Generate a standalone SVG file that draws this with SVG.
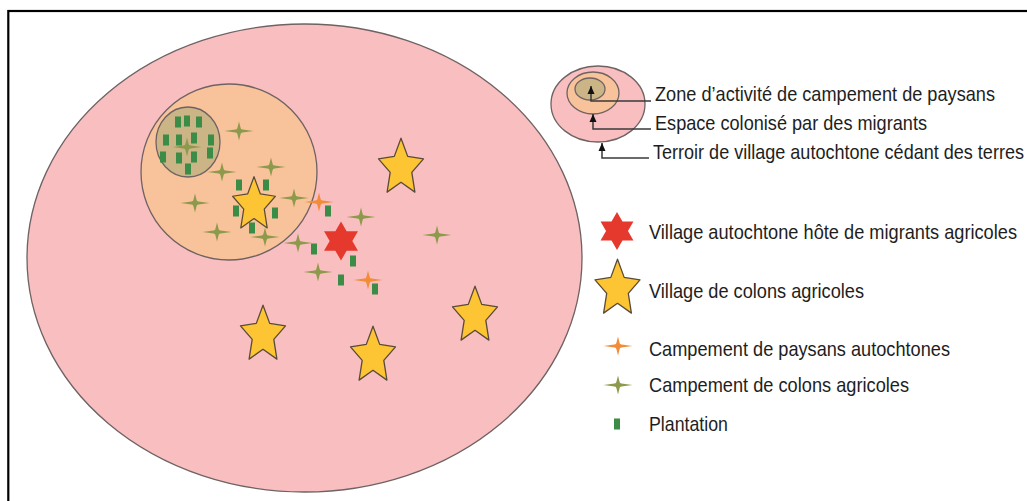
<svg xmlns="http://www.w3.org/2000/svg" xmlns:xlink="http://www.w3.org/1999/xlink" width="1027" height="501" viewBox="0 0 1027 501">
<style>
.lbl{font-family:"Liberation Sans",Arial,sans-serif;font-size:20.5px;fill:#1e1e1e}
.zone{stroke:#6e6262;stroke-width:1.3}
.vstar{fill:#fdc534;stroke:#5a4a36;stroke-width:1.3;stroke-linejoin:round}
.hstar{fill:#e5392e}
.camp-o{fill:#8e9a4c}
.camp-a{fill:#f28c38}
.plant{fill:#3b8c46}
.lead{fill:none;stroke:#3a3a3a;stroke-width:1.5}
</style>
<defs>
<path id="star5" d="M0,-29.8 L6.7,-11.6 L22.5,-9.2 L10.8,4.4 L13.9,24.1 L0,14.3 L-13.9,24.1 L-10.8,4.4 L-22.5,-9.2 L-6.7,-11.6Z"/>
<path id="star6" d="M0,-20 L5.77,-10 L17.32,-10 L11.55,0 L17.32,10 L5.77,10 L0,20 L-5.77,10 L-17.32,10 L-11.55,0 L-17.32,-10 L-5.77,-10Z"/>
<path id="spark" d="M-14.5,0 L-3.5,-1.6 Q-1.6,-1.6 -1.5,-3.5 L0,-9.5 L1.5,-3.5 Q1.6,-1.6 3.5,-1.6 L14.5,0 L3.5,1.6 Q1.6,1.6 1.5,3.5 L0,9.5 L-1.5,3.5 Q-1.6,1.6 -3.5,1.6Z"/>
<rect id="pl" x="-3" y="-5.5" width="6" height="11"/>
<filter id="soft" x="-20%" y="-20%" width="140%" height="140%"><feGaussianBlur stdDeviation="0.45"/></filter>
<marker id="arr" markerUnits="userSpaceOnUse" markerWidth="8" markerHeight="8" viewBox="0 0 8 7" refX="8" refY="3.5" orient="auto">
<path d="M0,0 L8,3.5 L0,7Z" fill="#111"/>
</marker>
</defs>
<rect x="8.3" y="11" width="1030" height="500" fill="#fff" stroke="#000" stroke-width="2.2"/>

<g id="terroir">
<ellipse class="zone" cx="304.5" cy="258" rx="277.5" ry="234" fill="#f9bec0"/>
</g>
<g id="espace-colonise">
<circle class="zone" cx="229" cy="172" r="88" fill="#f8c29a"/>
</g>
<g id="zone-activite">
<ellipse class="zone" cx="188" cy="142" rx="32" ry="35" fill="#cbb486"/>
</g>

<g id="plantations">
<use xlink:href="#pl" class="plant" x="178" y="122"/>
<use xlink:href="#pl" class="plant" x="187" y="121"/>
<use xlink:href="#pl" class="plant" x="199" y="122"/>
<use xlink:href="#pl" class="plant" x="166" y="140"/>
<use xlink:href="#pl" class="plant" x="179" y="140"/>
<use xlink:href="#pl" class="plant" x="194" y="138"/>
<use xlink:href="#pl" class="plant" x="211" y="140"/>
<use xlink:href="#pl" class="plant" x="163" y="157"/>
<use xlink:href="#pl" class="plant" x="179" y="158"/>
<use xlink:href="#pl" class="plant" x="194" y="157"/>
<use xlink:href="#pl" class="plant" x="210" y="153"/>
<use xlink:href="#pl" class="plant" x="188" y="169"/>
<use xlink:href="#pl" class="plant" x="239" y="185"/>
<use xlink:href="#pl" class="plant" x="266" y="185"/>
<use xlink:href="#pl" class="plant" x="236" y="211"/>
<use xlink:href="#pl" class="plant" x="275" y="213"/>
<use xlink:href="#pl" class="plant" x="252" y="228"/>
<use xlink:href="#pl" class="plant" x="328" y="211"/>
<use xlink:href="#pl" class="plant" x="314" y="249"/>
<use xlink:href="#pl" class="plant" x="353" y="261"/>
<use xlink:href="#pl" class="plant" x="341" y="280"/>
<use xlink:href="#pl" class="plant" x="375" y="289"/>
</g>

<g id="campements-colons" filter="url(#soft)">
<use xlink:href="#spark" class="camp-o" x="187" y="147"/>
<use xlink:href="#spark" class="camp-o" x="239" y="131"/>
<use xlink:href="#spark" class="camp-o" x="271" y="167"/>
<use xlink:href="#spark" class="camp-o" x="222" y="172"/>
<use xlink:href="#spark" class="camp-o" x="195" y="203"/>
<use xlink:href="#spark" class="camp-o" x="294" y="198"/>
<use xlink:href="#spark" class="camp-o" x="217" y="232"/>
<use xlink:href="#spark" class="camp-o" x="265" y="237"/>
<use xlink:href="#spark" class="camp-o" x="298" y="243"/>
<use xlink:href="#spark" class="camp-o" x="318" y="272"/>
<use xlink:href="#spark" class="camp-o" x="361" y="217"/>
<use xlink:href="#spark" class="camp-o" x="437" y="235"/>
</g>
<g id="campements-autochtones" filter="url(#soft)">
<use xlink:href="#spark" class="camp-a" x="319" y="202"/>
<use xlink:href="#spark" class="camp-a" x="368" y="280"/>
</g>

<g id="villages-colons">
<use xlink:href="#star5" class="vstar" transform="translate(254,205) scale(0.95)"/>
<use xlink:href="#star5" class="vstar" transform="translate(401,168)"/>
<use xlink:href="#star5" class="vstar" transform="translate(263,335)"/>
<use xlink:href="#star5" class="vstar" transform="translate(373,356)"/>
<use xlink:href="#star5" class="vstar" transform="translate(475,316)"/>
</g>
<g id="village-autochtone">
<use xlink:href="#star6" class="hstar" transform="translate(341,241) scale(0.98)"/>
</g>

<g id="legend-zones">
<ellipse class="zone" cx="598" cy="104" rx="47" ry="38" fill="#f9bec0" stroke-width="1"/>
<ellipse class="zone" cx="593" cy="93" rx="26" ry="21" fill="#f8c29a" stroke-width="1"/>
<ellipse class="zone" cx="590" cy="89" rx="15" ry="11" fill="#cbb486" stroke-width="1"/>
</g>
<g id="connectors">
<path class="lead" d="M651,101 H591 V86" marker-end="url(#arr)"/>
<path class="lead" d="M651,129 H593 V114" marker-end="url(#arr)"/>
<path class="lead" d="M649,158 H602 V143" marker-end="url(#arr)"/>
</g>
<g id="legend-zone-labels">
<text class="lbl" transform="translate(655,101) scale(0.82,1)" textLength="414.6" lengthAdjust="spacingAndGlyphs">Zone d’activité de campement de paysans</text>
<text class="lbl" transform="translate(655,130) scale(0.82,1)" textLength="331.7" lengthAdjust="spacingAndGlyphs">Espace colonisé par des migrants</text>
<text class="lbl" transform="translate(653,159) scale(0.82,1)" textLength="452.4" lengthAdjust="spacingAndGlyphs">Terroir de village autochtone cédant des terres</text>
</g>

<g id="legend-symbols">
<use xlink:href="#star6" class="hstar" transform="translate(617,231) scale(0.95)"/>
<use xlink:href="#star5" class="vstar" transform="translate(617.5,289)"/>
<g filter="url(#soft)">
<use xlink:href="#spark" class="camp-a" x="618" y="346"/>
<use xlink:href="#spark" class="camp-o" x="618" y="385"/>
</g>
<use xlink:href="#pl" class="plant" x="617" y="424"/>
</g>
<g id="legend-labels">
<text class="lbl" transform="translate(649,239) scale(0.82,1)" textLength="448.8" lengthAdjust="spacingAndGlyphs">Village autochtone hôte de migrants agricoles</text>
<text class="lbl" transform="translate(649,298) scale(0.82,1)" textLength="262.2" lengthAdjust="spacingAndGlyphs">Village de colons agricoles</text>
<text class="lbl" transform="translate(649,356) scale(0.82,1)" textLength="367.1" lengthAdjust="spacingAndGlyphs">Campement de paysans autochtones</text>
<text class="lbl" transform="translate(649,392) scale(0.82,1)" textLength="317.1" lengthAdjust="spacingAndGlyphs">Campement de colons agricoles</text>
<text class="lbl" transform="translate(649,431) scale(0.82,1)" textLength="96.3" lengthAdjust="spacingAndGlyphs">Plantation</text>
</g>
</svg>
